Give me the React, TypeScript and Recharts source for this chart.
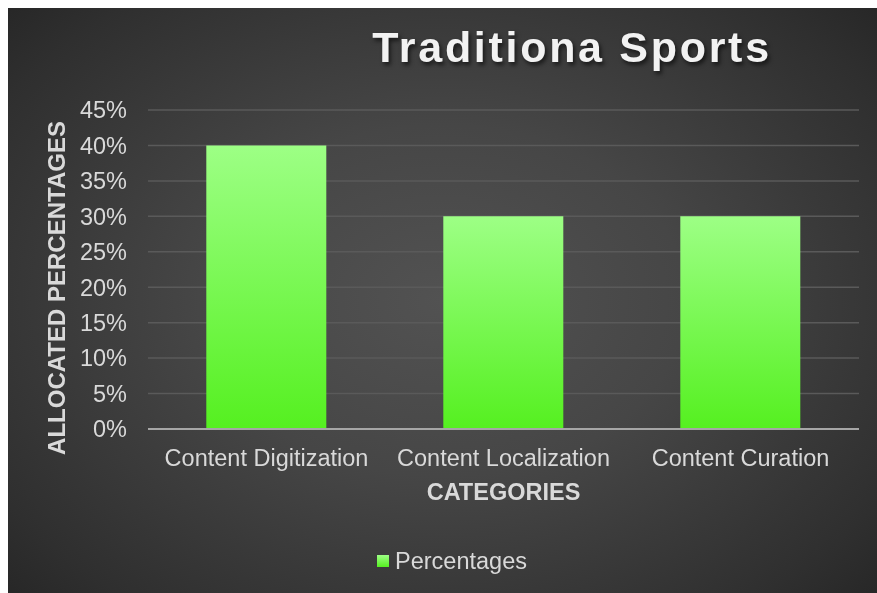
import React from 'react';
import {
  BarChart,
  Bar,
  XAxis,
  YAxis,
  CartesianGrid,
  Legend,
  Label,
} from 'recharts';

const categories = ['Content Digitization', 'Content Localization', 'Content Curation'];
const percentages = [40, 30, 30];
const yTicks = [0, 5, 10, 15, 20, 25, 30, 35, 40, 45];

const data = categories.map((name, i) => ({ name, Percentages: percentages[i] }));

const FONT = '"Liberation Sans", Arial, sans-serif';
const TEXT = '#d9d9d9';
const W = 869;
const H = 585;

const LegendBox = () => (
  <div
    style={{
      height: 74,
      paddingTop: 30,
      boxSizing: 'border-box',
      display: 'flex',
      justifyContent: 'center',
      alignItems: 'center',
      fontFamily: FONT,
      fontSize: 23.5,
      color: TEXT,
    }}
  >
    <div
      style={{
        marginLeft: 37,
        display: 'flex',
        alignItems: 'center',
        height: 26,
      }}
    >
      <span
        style={{
          width: 12,
          height: 12,
          marginRight: 6,
          background: 'linear-gradient(#9dff85, #55f020)',
          display: 'inline-block',
        }}
      />
      Percentages
    </div>
  </div>
);

const YLabel = () => (
  <text
    x={0}
    y={0}
    transform="translate(48, 280) rotate(-90)"
    textAnchor="middle"
    dominantBaseline="central"
    fill={TEXT}
    fontFamily={FONT}
    fontWeight="bold"
    fontSize={24}
  >
    ALLOCATED PERCENTAGES
  </text>
);

const App = () => {
  return (
    <div
      style={{
        position: 'fixed',
        top: 8,
        left: 8,
        width: W,
        height: H,
        background:
          'radial-gradient(ellipse 70% 75% at 50% 50%, #525252 0%, #464646 40%, #2f2f2f 85%, #262626 100%)',
      }}
    >
      <div
        style={{
          position: 'absolute',
          top: 15,
          left: 0,
          width: 1128,
          textAlign: 'center',
          fontFamily: FONT,
          fontWeight: 'bold',
          fontSize: 43,
          letterSpacing: 2.7,
          color: '#f2f2f2',
          textShadow: '2px 3px 4px rgba(0,0,0,0.6)',
          pointerEvents: 'none',
        }}
      >
        Traditiona Sports
      </div>
      <BarChart
        width={W}
        height={H}
        data={data}
        margin={{ top: 102, right: 18, left: 0, bottom: 10 }}
        barCategoryGap="24.6%"
      >
        <defs>
          <linearGradient id="barFill" x1="0" y1="0" x2="0" y2="1">
            <stop offset="0%" stopColor="#9dff85" />
            <stop offset="100%" stopColor="#55f020" />
          </linearGradient>
        </defs>
        <CartesianGrid vertical={false} stroke="#5a5a5a" strokeWidth={1.5} />
        <XAxis
          dataKey="name"
          height={80}
          tickSize={0}
          tickMargin={20}
          axisLine={{ stroke: '#a6a6a6', strokeWidth: 2 }}
          tick={{ fill: TEXT, fontSize: 23.5, fontFamily: FONT }}
        >
          <Label
            value="CATEGORIES"
            position="insideBottom"
            offset={9}
            fill={TEXT}
            fontFamily={FONT}
            fontWeight="bold"
            fontSize={23.5}
          />
        </XAxis>
        <YAxis
          width={140}
          domain={[0, 45]}
          ticks={yTicks}
          tickFormatter={(v) => `${v}%`}
          tickSize={0}
          tickMargin={21}
          axisLine={false}
          tick={{ fill: TEXT, fontSize: 23.5, fontFamily: FONT }}
        >
          <Label content={<YLabel />} />
        </YAxis>
        <Legend verticalAlign="bottom" content={<LegendBox />} />
        <Bar dataKey="Percentages" fill="url(#barFill)" isAnimationActive={false} />
      </BarChart>
    </div>
  );
};

export default App;
